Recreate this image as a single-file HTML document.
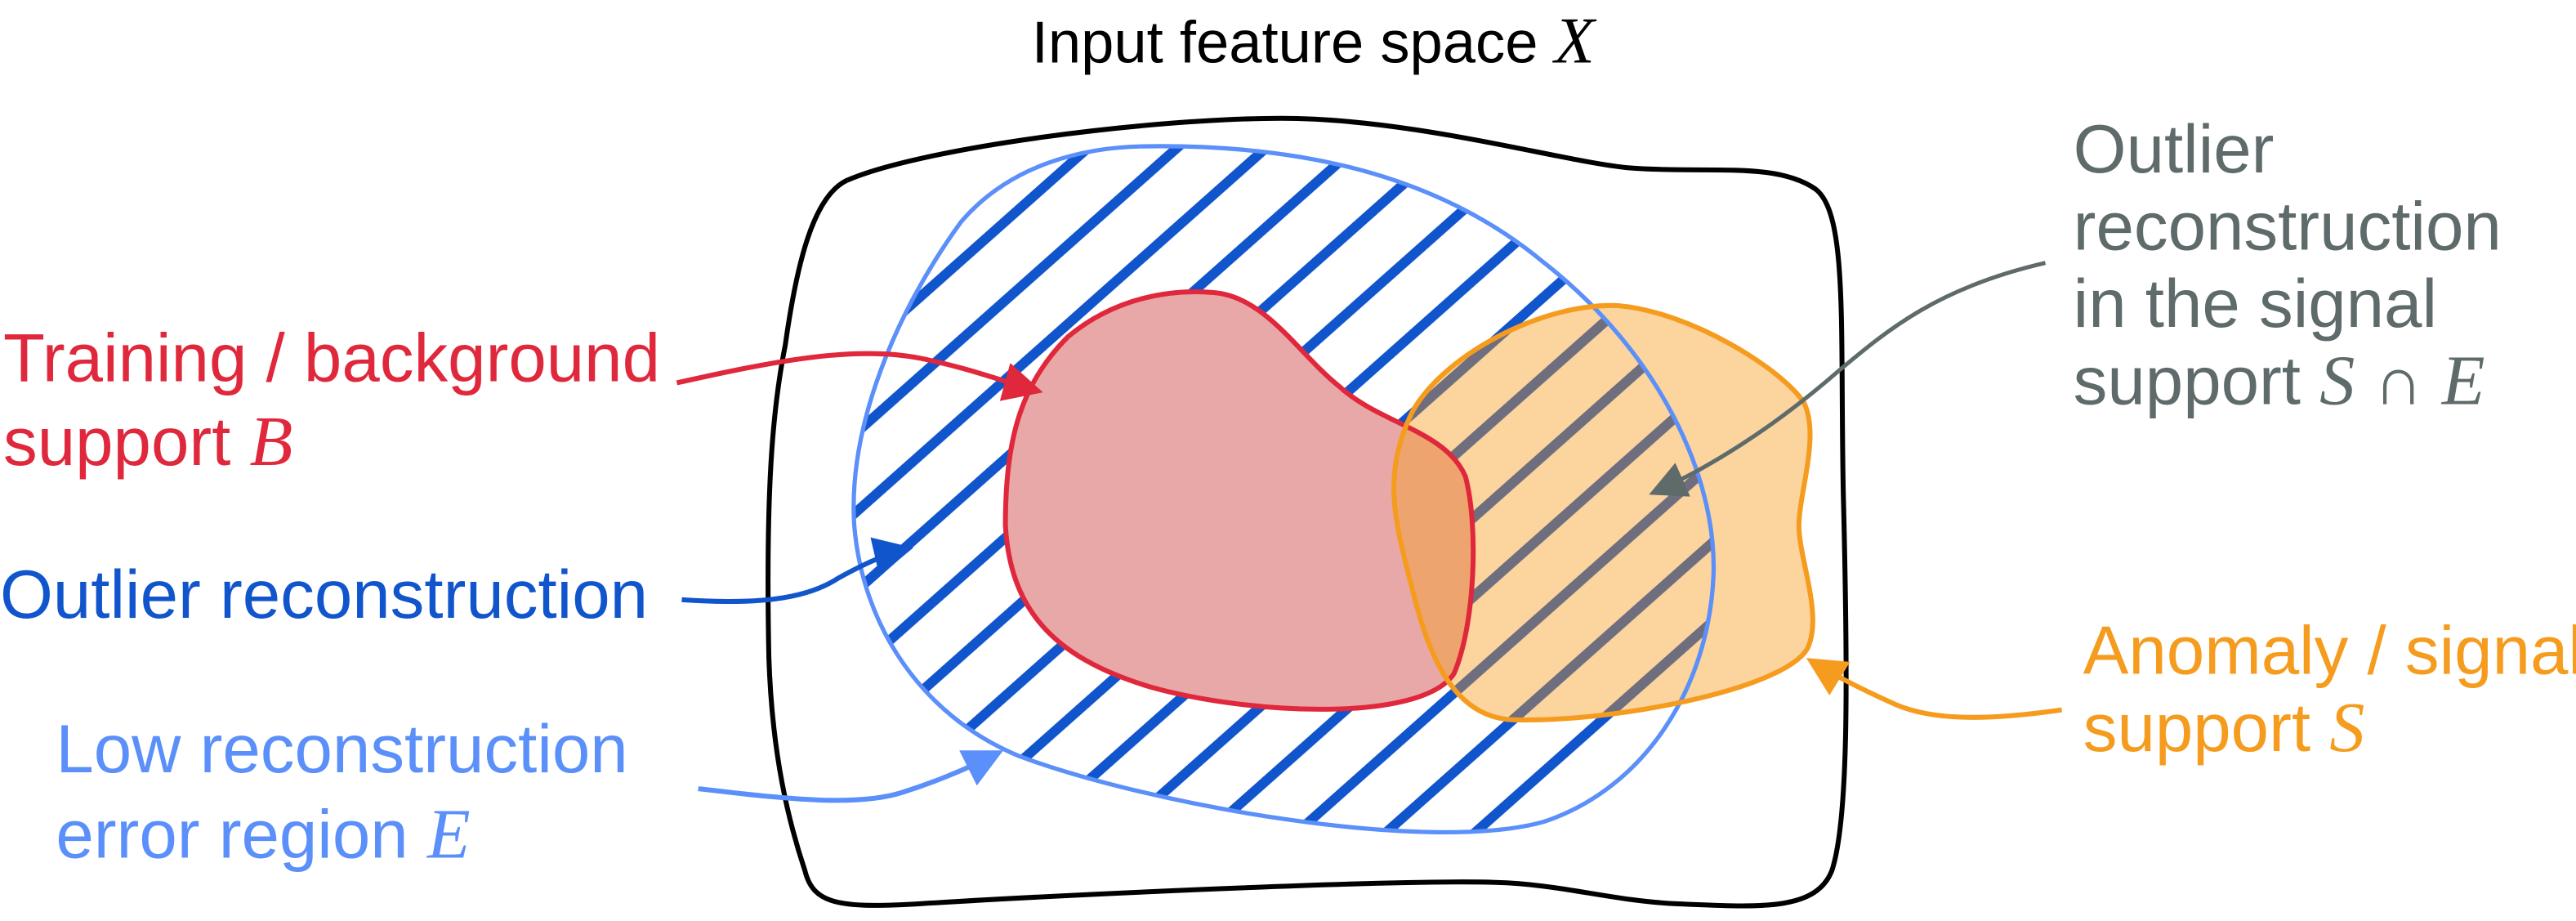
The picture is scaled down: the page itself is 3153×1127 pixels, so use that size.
<!DOCTYPE html>
<html><head><meta charset="utf-8"><style>
html,body{margin:0;padding:0;background:#fff;}
svg{display:block;}
text{font-family:"Liberation Sans",sans-serif;}
.m{font-family:"Liberation Serif",serif;font-style:italic;}
</style></head><body>
<svg width="3153" height="1127" viewBox="0 0 1568 560.5" preserveAspectRatio="none" xmlns="http://www.w3.org/2000/svg">
<defs>
<path id="E" d="M 700,89 C 800,88 880,110 940,160 C 1010,215 1045,290 1043,350 C 1040,420 1000,480 940,500 C 870,520 700,490 620,460 C 560,435 525,380 520,320 C 516,260 545,190 585,135 C 615,100 660,89 700,89 Z"/>
<path id="B" d="M 738,178 C 770,180 790,215 815,235 C 840,258 880,262 892,290 C 900,320 898,380 885,410 C 865,440 760,435 700,418 C 640,400 615,370 612,320 C 612,270 620,235 650,205 C 680,180 715,176 738,178 Z"/>
<path id="S" d="M 985,186 C 1030,190 1085,225 1098,245 C 1108,265 1095,300 1095,320 C 1095,340 1110,375 1100,395 C 1085,420 980,440 920,438 C 885,436 870,400 860,360 C 850,320 840,290 860,250 C 880,215 940,184 985,186 Z"/>
<clipPath id="cE"><use href="#E"/></clipPath>
<mask id="mS"><rect x="0" y="0" width="1568" height="561" fill="black"/><use href="#S" fill="white"/><use href="#B" fill="black"/></mask>
<pattern id="hb" width="36" height="36" patternUnits="userSpaceOnUse" patternTransform="rotate(-41.6)"><rect x="0" y="0" width="36" height="6" fill="#1155cc"/></pattern>
<pattern id="hg" width="36" height="36" patternUnits="userSpaceOnUse" patternTransform="rotate(-41.6)"><rect x="0" y="0" width="36" height="6" fill="#6e6e7e"/></pattern>
<marker id="ar" markerWidth="8" markerHeight="8" refX="7" refY="4" orient="auto" markerUnits="strokeWidth"><path d="M0,0 L8,4 L0,8 Z" fill="#e0283c"/></marker>
<marker id="ad" markerWidth="8" markerHeight="8" refX="7" refY="4" orient="auto" markerUnits="strokeWidth"><path d="M0,0 L8,4 L0,8 Z" fill="#1155cc"/></marker>
<marker id="al" markerWidth="8" markerHeight="8" refX="7" refY="4" orient="auto" markerUnits="strokeWidth"><path d="M0,0 L8,4 L0,8 Z" fill="#5b8ff9"/></marker>
<marker id="ag" markerWidth="9" markerHeight="9" refX="8" refY="4.5" orient="auto" markerUnits="strokeWidth"><path d="M0,0 L9,4.5 L0,9 Z" fill="#5f6a6a"/></marker>
<marker id="ao" markerWidth="8" markerHeight="8" refX="7" refY="4" orient="auto" markerUnits="strokeWidth"><path d="M0,0 L8,4 L0,8 Z" fill="#f59c1f"/></marker>
</defs>

<text x="628" y="38" font-size="36" fill="#000">Input feature space <tspan class="m" font-size="40">X</tspan></text>

<path d="M 515,110 C 560,90 700,72 780,72 C 860,72 950,98 990,102 C 1040,106 1080,98 1105,115 C 1125,130 1120,200 1122,300 C 1125,420 1125,500 1115,530 C 1105,555 1070,552 1020,550 C 980,548 950,538 910,537 C 850,535 640,545 560,550 C 510,553 495,550 490,530 C 480,500 470,460 468,400 C 466,300 470,250 478,210 C 485,160 495,120 515,110 Z" fill="none" stroke="#000" stroke-width="3"/>

<g clip-path="url(#cE)"><rect x="400" y="50" width="700" height="500" fill="url(#hb)"/></g>
<use href="#B" fill="#e8a8a8"/>
<use href="#S" fill="rgb(247,160,40)" fill-opacity="0.45"/>
<g clip-path="url(#cE)"><rect x="400" y="50" width="700" height="500" fill="url(#hg)" mask="url(#mS)"/></g>
<use href="#E" fill="none" stroke="#5b8ff9" stroke-width="2.6"/>
<use href="#B" fill="none" stroke="#e0283c" stroke-width="3"/>
<use href="#S" fill="none" stroke="#f59c1f" stroke-width="3"/>

<path d="M 412,233 C 470,220 520,210 560,218 C 590,224 610,232 632,238" fill="none" stroke="#e0283c" stroke-width="3" marker-end="url(#ar)"/>
<path d="M 415,365 C 460,368 490,365 510,352 C 528,342 540,337 553,334" fill="none" stroke="#1155cc" stroke-width="3" marker-end="url(#ad)"/>
<path d="M 425,480 C 470,485 520,492 550,482 C 575,474 592,466 608,458" fill="none" stroke="#5b8ff9" stroke-width="3" marker-end="url(#al)"/>
<path d="M 1245,160 C 1180,175 1150,200 1120,225 C 1080,260 1040,285 1006,300" fill="none" stroke="#5f6a6a" stroke-width="2.5" marker-end="url(#ag)"/>
<path d="M 1255,432 C 1200,440 1170,437 1150,427 C 1130,418 1115,410 1102,402" fill="none" stroke="#f59c1f" stroke-width="3" marker-end="url(#ao)"/>

<g font-size="41.5">
<text x="2" y="232" fill="#e0283c">Training / background</text>
<text x="2" y="283" fill="#e0283c">support <tspan class="m" font-size="43">B</tspan></text>
<text x="0" y="376" fill="#1155cc">Outlier reconstruction</text>
<text x="34" y="470" fill="#5b8ff9">Low reconstruction</text>
<text x="34" y="522" fill="#5b8ff9">error region <tspan class="m" font-size="43">E</tspan></text>
<text x="1262" y="105" fill="#5f6a6a">Outlier</text>
<text x="1262" y="152" fill="#5f6a6a">reconstruction</text>
<text x="1262" y="199" fill="#5f6a6a">in the signal</text>
<text x="1262" y="246" fill="#5f6a6a">support <tspan class="m" font-size="43">S</tspan> ∩ <tspan class="m" font-size="43">E</tspan></text>
<text x="1268" y="410" fill="#f59c1f">Anomaly / signal</text>
<text x="1268" y="457" fill="#f59c1f">support <tspan class="m" font-size="43">S</tspan></text>
</g>
</svg>
</body></html>
